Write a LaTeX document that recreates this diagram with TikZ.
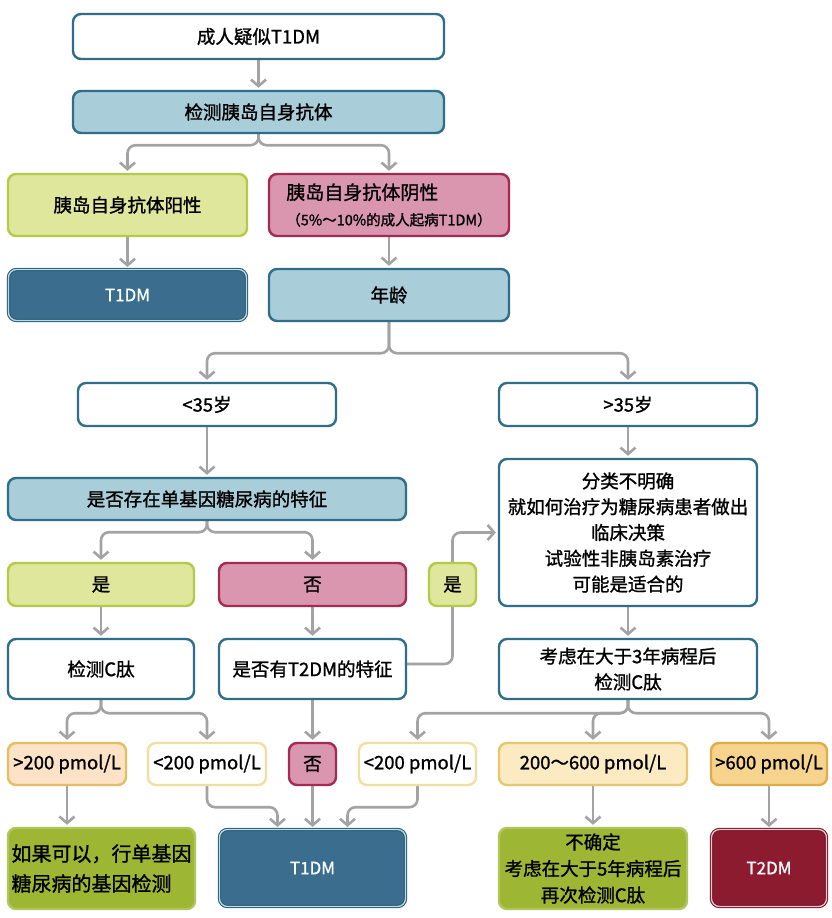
\documentclass[tikz,border=0pt]{standalone}
\usepackage{fontspec}
\setmainfont{Noto Sans CJK SC}[FakeBold=1.2,AutoFakeBold=0,UprightFeatures={FakeBold=1.2}]
\usetikzlibrary{arrows.meta,backgrounds,calc}
\definecolor{bblue}{HTML}{2F6E89}
\definecolor{lblue}{HTML}{A9CDD9}
\definecolor{dblue}{HTML}{3A6D8E}
\definecolor{dblueb}{HTML}{2A5870}
\definecolor{dbluei}{HTML}{B5DDE8}
\definecolor{ygfill}{HTML}{DFE79C}
\definecolor{ygbord}{HTML}{B5C94A}
\definecolor{pkfill}{HTML}{D996AE}
\definecolor{pkbord}{HTML}{A52A52}
\definecolor{olv}{HTML}{9DB634}
\definecolor{drfill}{HTML}{8C1B2F}
\definecolor{drbord}{HTML}{6D1425}
\definecolor{drin}{HTML}{F2C4CC}
\definecolor{pchfill}{HTML}{FCE2C6}
\definecolor{pchbord}{HTML}{E5BD63}
\definecolor{lyb}{HTML}{F0DFA0}
\definecolor{midfill}{HTML}{FBEAC2}
\definecolor{midbord}{HTML}{E8C66E}
\definecolor{orfill}{HTML}{F6D48E}
\definecolor{orbord}{HTML}{E0AC48}
\definecolor{agray}{HTML}{A3A3A3}
\begin{document}
\begin{tikzpicture}[x=1pt,y=-1pt,
  base/.style={rounded corners=8pt, line width=2.4pt, align=center, inner sep=2pt,
    font=\fontsize{18.5}{25.8}\selectfont, text=black},
  sz/.style 2 args={minimum width=#1, minimum height=#2},
  wbox/.style={base, draw=bblue, fill=white},
  lbbox/.style={base, draw=bblue, fill=lblue},
  ygbox/.style={base, draw=ygbord, fill=ygfill},
  pkbox/.style={base, draw=pkbord, fill=pkfill},
  dbbox/.style={base, fill=dblue, draw=dblueb, line width=1pt, double=dbluei,
    double distance=1.3pt, text=white!90!dbluei},
  drbox/.style={base, fill=drfill, draw=drbord, line width=1pt, double=drin,
    double distance=1.3pt, text=white!90!drin},
  olbox/.style={base, fill=olv, draw=olv!80!white},
  pchbox/.style={base, fill=pchfill, draw=pchbord},
  lybox/.style={base, fill=white, draw=lyb},
  midbox/.style={base, fill=midfill, draw=midbord},
  orbox/.style={base, fill=orfill, draw=orbord},
  arr/.style={draw=agray, line width=2.6pt, rounded corners=8pt, shorten >=2pt,
    -{Straight Barb[length=6.5pt,width=15pt]}}
]
\useasboundingbox (0,0) rectangle (832,918);

\node[wbox, sz={371pt}{45pt}] (n1) at (258.5,36.5) {成人疑似T1DM};
\node[lbbox, sz={371pt}{42pt}] (n2) at (258.5,112) {检测胰岛自身抗体};
\node[ygbox, sz={239pt}{62pt}] (n3) at (127.5,205) {胰岛自身抗体阳性};
\node[pkbox, sz={240pt}{62pt}, align=left] (n4) at (389,205)
  {{\fontsize{19}{25}\selectfont 胰岛自身抗体阴性}\\{\fontsize{14.5}{24}\selectfont （5\%～10\%的成人起病T1DM）}};
\node[dbbox, sz={238pt}{51pt}, font=\fontsize{17}{22}\selectfont] (n5) at (127.5,295) {T1DM};
\node[lbbox, sz={240pt}{52pt}] (n6) at (389,295) {年龄};
\node[wbox, sz={258pt}{43pt}] (n7) at (207,404.5) {<35岁};
\node[wbox, sz={258pt}{43pt}] (n8) at (628,404.5) {>35岁};
\node[lbbox, sz={398pt}{42pt}] (n9) at (207,499) {是否存在单基因糖尿病的特征};
\node[ygbox, sz={186pt}{43pt}] (n10) at (101,584.5) {是};
\node[pkbox, sz={187pt}{43pt}] (n11) at (312.5,584.5) {否};
\node[ygbox, sz={47pt}{43pt}] (n12) at (452.5,584.5) {是};
\node[wbox, sz={258pt}{147pt}] (n13) at (628,532.5)
  {分类不明确\\就如何治疗为糖尿病患者做出\\临床决策\\试验性非胰岛素治疗\\可能是适合的};
\node[wbox, sz={186pt}{60pt}] (n14) at (101,669) {检测C肽};
\node[wbox, sz={187pt}{60pt}] (n15) at (312.5,669) {是否有T2DM的特征};
\node[wbox, sz={258pt}{60pt}] (n16) at (628,669) {考虑在大于3年病程后\\检测C肽};
\node[pchbox, sz={118pt}{42pt}] (n17) at (67,764) {>200 pmol/L};
\node[lybox, sz={118pt}{42pt}] (n18) at (207,764) {<200 pmol/L};
\node[pkbox, sz={47pt}{42pt}] (n19) at (312.5,764) {否};
\node[lybox, sz={117pt}{42pt}] (n20) at (417.5,764) {<200 pmol/L};
\node[midbox, sz={188pt}{42pt}] (n21) at (593,764) {200～600 pmol/L};
\node[orbox, sz={116pt}{42pt}] (n22) at (769,764) {>600 pmol/L};
\node[olbox, sz={187pt}{81pt}, align=left, font=\fontsize{20}{30}\selectfont] (n23) at (101.5,868.5)
  {如果可以，行单基因\\糖尿病的基因检测};
\node[dbbox, sz={186pt}{77pt}, font=\fontsize{17}{22}\selectfont] (n24) at (312.5,868) {T1DM};
\node[olbox, sz={188pt}{81pt}, font=\fontsize{18.5}{26.5}\selectfont] (n25) at (593,868.5)
  {不确定\\考虑在大于5年病程后\\再次检测C肽};
\node[drbox, sz={115pt}{77pt}, font=\fontsize{17}{22}\selectfont] (n26) at (769,868) {T2DM};

\begin{pgfonlayer}{background}
\fill[white] (0,0) rectangle (832,918);
\draw[arr] (n1.south) -- (n2.north);
\draw[arr] (n2.south) -- ++(0,11) -| (n3.north);
\draw[arr] (n2.south) -- ++(0,11) -| (n4.north);
\draw[arr] (n3.south) -- (n5.north);
\draw[arr] (n4.south) -- (n6.north);
\draw[arr] (n6.south) -- ++(0,31) -| (n7.north);
\draw[arr] (n6.south) -- ++(0,31) -| (n8.north);
\draw[arr] (n7.south) -- (n9.north);
\draw[arr] (n9.south) -- ++(0,11) -| (n10.north);
\draw[arr] (n9.south) -- ++(0,11) -| (n11.north);
\draw[arr] (n10.south) -- (n14.north);
\draw[arr] (n11.south) -- (n15.north);
\draw[arr] ([yshift=5pt]n15.east) -| (n12.center |- n13.west) -- (n13.west);
\draw[arr] (n8.south) -- (n13.north);
\draw[arr] (n13.south) -- (n16.north);
\draw[arr] (n14.south) -- ++(0,13) -| (n17.north);
\draw[arr] (n14.south) -- ++(0,13) -| (n18.north);
\draw[arr] (n15.south) -- (n19.north);
\draw[arr] (n16.south) -- ++(0,13) -| (n20.north);
\draw[arr] (n16.south) -- ++(0,13) -| (n21.north);
\draw[arr] (n16.south) -- ++(0,13) -| (n22.north);
\draw[arr] (n17.south) -- (n17.south |- n23.north);
\draw[arr] (n18.south) -- ++(0,21) -| ([xshift=-35pt]n24.north);
\draw[arr] (n19.south) -- (n24.north);
\draw[arr] (n20.south) -- ++(0,21) -| ([xshift=35pt]n24.north);
\draw[arr] (n21.south) -- (n25.north);
\draw[arr] (n22.south) -- (n26.north);
\end{pgfonlayer}
\end{tikzpicture}
\end{document}
